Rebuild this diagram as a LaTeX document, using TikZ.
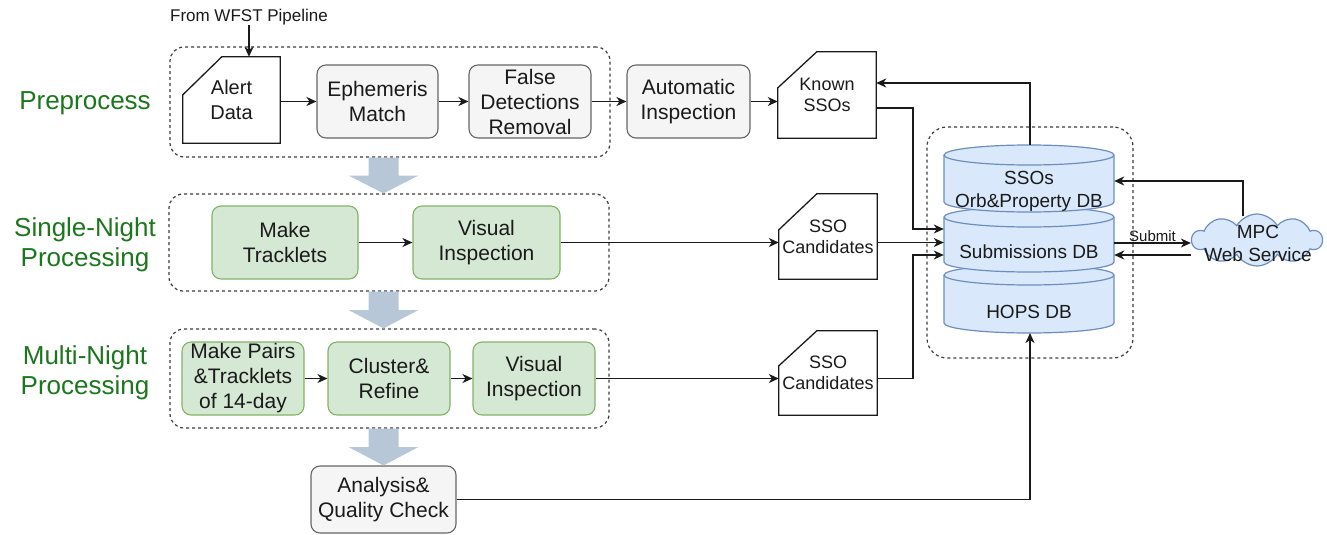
\documentclass[tikz,border=0pt]{standalone}
\usepackage{fontspec}
\setmainfont{Liberation Sans}
\usetikzlibrary{arrows.meta,calc,shapes.symbols}

\definecolor{grayfill}{HTML}{F5F5F5}
\definecolor{grayline}{HTML}{666666}
\definecolor{greenfill}{HTML}{D5E8D4}
\definecolor{greenline}{HTML}{82B366}
\definecolor{bluefill}{HTML}{DAE8FC}
\definecolor{blueline}{HTML}{6C8EBF}
\definecolor{stagegreen}{RGB}{28,118,28}
\definecolor{flowblue}{RGB}{183,199,216}
\definecolor{ink}{HTML}{1A1A1A}

\tikzset{
  every node/.style={align=center, inner sep=0pt, font=\fontsize{21}{25}\selectfont, text=ink},
  procbox/.style={rectangle, rounded corners=9pt, line width=1.1pt, minimum width=#1, minimum height=73pt},
  graybox/.style={procbox=#1, fill=grayfill, draw=grayline},
  greenbox/.style={procbox=#1, fill=greenfill, draw=greenline},
  cardbox/.style={rectangle, minimum width=98pt, minimum height=#1, font=\fontsize{18}{21}\selectfont},
  stagebox/.style={rectangle, draw=ink!85, line width=1.2pt, dash pattern=on 3pt off 3pt, rounded corners=14pt},
  stagelabel/.style={text=stagegreen, font=\fontsize{26}{30}\selectfont},
  dbtext/.style={minimum width=170pt, font=\fontsize{19}{23}\selectfont},
  conn/.style={draw=ink, line width=1.4pt, -{Stealth[length=10pt,width=9pt,inset=3pt]}},
  flowarrow/.style={fill=flowblue},
}

% card outline with the top-left corner cut off
\newcommand\cardoutline[3]{%
  \draw[draw=ink, line width=1.3pt, fill=none]
    ([yshift=-#3pt]#1.north west) -- ([xshift=#2pt]#1.north west) -- (#1.north east)
    -- (#1.south east) -- (#1.south west) -- cycle;}

% one database cylinder between two heights
\newcommand\dbcylinder[2]{%
  \path[fill=bluefill, draw=blueline, line width=1.2pt]
    (944,-#1-10) -- (944,-#2+10)
    arc[start angle=180, end angle=360, x radius=85, y radius=10]
    -- (1114,-#1-10)
    arc[start angle=0, end angle=180, x radius=85, y radius=10] -- cycle;
  \draw[blueline, line width=1.2pt] (944,-#1-10)
    arc[start angle=180, end angle=360, x radius=85, y radius=10];}

% broad stage-to-stage arrow
\newcommand\stagearrow[2]{%
  \fill[flowarrow] let \p1=(#1), \p2=(#2), \p3=($(#1)!.5!(#2)$) in
    (\x1-15pt,\y1) -- (\x1+15pt,\y1) -- (\x1+15pt,\y3) -- (\x1+35pt,\y3)
    -- (\x1,\y2) -- (\x1-35pt,\y3) -- (\x1-15pt,\y3) -- cycle;}

\begin{document}
\begin{tikzpicture}[x=1pt,y=1pt]
\useasboundingbox (0,0) rectangle (1327,-535);

% stage frames
\node[stagebox, minimum width=440pt, minimum height=110pt] (pre) at (390,-102) {};
\node[stagebox, minimum width=440pt, minimum height=97pt] (single) at (389,-242.5) {};
\node[stagebox, minimum width=439pt, minimum height=99pt] (multi) at (389.5,-378.5) {};
\node[stagebox, minimum width=206pt, minimum height=231pt, rounded corners=20pt] (dbframe) at (1030,-242.5) {};

% stage labels
\node[stagelabel] (lpre) at (85,-103) {Preprocess};
\node[stagelabel] (lsingle) at (85,-245) {Single-Night\\Processing};
\node[stagelabel] (lmulti) at (85,-373) {Multi-Night\\Processing};

% preprocessing
\node[font=\fontsize{17}{20}\selectfont] (wfst) at (249,-17) {From WFST Pipeline};
\node[cardbox=86pt, minimum width=97pt, font=\fontsize{20}{25}\selectfont] (alert) at (231.5,-100) {Alert\\Data};
\cardoutline{alert}{39}{38}
\node[graybox=121pt] (eph) at (377.5,-101.5) {Ephemeris\\Match};
\node[graybox=122pt] (fdr) at (530,-101.5) {False\\Detections\\Removal};
\node[graybox=123pt] (auto) at (688.5,-101.5) {Automatic\\Inspection};
\node[cardbox=86pt] (known) at (827,-95) {Known\\SSOs};
\cardoutline{known}{39}{36}

% single-night processing
\node[greenbox=146pt] (trk) at (285,-242.5) {Make\\Tracklets};
\node[greenbox=147pt] (vis1) at (486.5,-242.5) {Visual\\Inspection};
\node[cardbox=85pt] (cand1) at (828,-236.5) {SSO\\Candidates};
\cardoutline{cand1}{38}{36}

% multi-night processing
\node[greenbox=122pt] (pairs) at (243,-378.5) {Make Pairs\\\&Tracklets\\of 14-day};
\node[greenbox=122pt] (clus) at (389,-378.5) {Cluster\&\\Refine};
\node[greenbox=122pt] (vis2) at (534,-378.5) {Visual\\Inspection};
\node[cardbox=84pt] (cand2) at (828,-373) {SSO\\Candidates};
\cardoutline{cand2}{38}{35}

% quality check
\node[graybox=145pt, minimum height=67pt] (qc) at (383.5,-499.5) {Analysis\&\\Quality Check};

% stage-to-stage arrows
\stagearrow{pre.south -| qc.north}{single.north -| qc.north}
\stagearrow{single.south -| qc.north}{multi.north -| qc.north}
\stagearrow{multi.south -| qc.north}{qc.north}

% databases
\dbcylinder{265}{333}
\dbcylinder{207}{272}
\dbcylinder{145}{212}
\node[dbtext] (ssodb) at (1029,-191) {SSOs\\Orb\&Property DB};
\node[dbtext] (subdb) at (1029,-252) {Submissions DB};
\node[dbtext] (hopsdb) at (1029,-312) {HOPS DB};
\coordinate (dbtop) at (1030,-145);
\coordinate (dbbottom) at (1030,-333);

% MPC service
\node[cloud, cloud puffs=10, cloud puff arc=120, cloud ignores aspect,
      minimum width=130pt, minimum height=52pt,
      fill=bluefill, draw=blueline, line width=1.2pt] (mpc) at (1257,-240) {};
\node[font=\fontsize{19}{23}\selectfont] (mpctext) at (1258,-243.5) {MPC\\Web Service};

% connectors
\coordinate (busx) at (913,0);
\coordinate (subin1) at ([yshift=23pt]subdb.west);
\coordinate (subin3) at ([yshift=-3pt]subdb.west);
\coordinate (knownout) at ([yshift=-13pt]known.east);
\coordinate (knownin) at ([yshift=12pt]known.east);
\coordinate (ssoin) at ([yshift=10pt]ssodb.east);
\coordinate (mpcup) at ([xshift=-14pt,yshift=-3pt]mpc.north);

\draw[conn] (wfst.south) -- (wfst.south |- alert.north);
\draw[conn] (alert.east |- eph.west) -- (eph.west);
\draw[conn] (eph.east) -- (fdr.west);
\draw[conn] (fdr.east) -- (auto.west);
\draw[conn] (auto.east) -- (auto.east -| known.west);

\draw[conn] (trk.east) -- (vis1.west);
\draw[conn] (vis1.east) -- (vis1.east -| cand1.west);
\draw[conn] (pairs.east) -- (clus.west);
\draw[conn] (clus.east) -- (vis2.west);
\draw[conn] (vis2.east) -- (vis2.east -| cand2.west);

\draw[conn] (knownout) -| (subin1 -| busx) -- (subin1);
\draw[conn] (cand1.east |- vis1.east) -- (subdb.west |- vis1.east);
\draw[conn] (cand2.east |- vis2.east) -| (subin3 -| busx) -- (subin3);
\draw[conn] (dbtop) |- (knownin);
\draw[conn] (qc.east) -| (dbbottom);

\draw[conn] ([yshift=9pt]subdb.east) -- node[above=1pt, font=\fontsize{15}{18}\selectfont] (submit) {Submit} ([yshift=9pt]subdb.east -| mpc.west);
\draw[conn] ([yshift=-3pt]subdb.east -| mpc.west) -- ([yshift=-3pt]subdb.east);
\draw[conn] (mpcup) |- (ssoin);
\end{tikzpicture}
\end{document}
